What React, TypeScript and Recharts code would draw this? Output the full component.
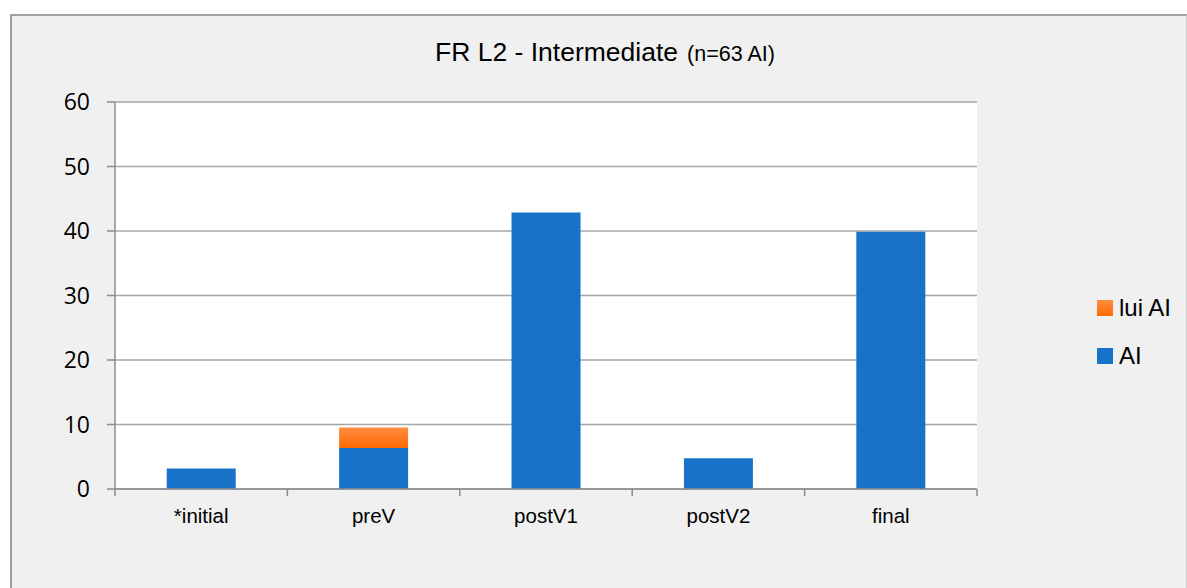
import React from 'react';
import { BarChart, Bar, XAxis, YAxis, CartesianGrid, Legend } from 'recharts';

const categories = ['*initial', 'preV', 'postV1', 'postV2', 'final'];
const aiValues = [3.17, 6.35, 42.86, 4.76, 39.9];
const luiAiValues = [0, 3.17, 0, 0, 0];
const yTicks = [0, 10, 20, 30, 40, 50, 60];
const boundaryTicks = [0, 1, 2, 3, 4, 5];

const data = categories.map((c, i) => ({
  idx: i + 0.5,
  cat: c,
  AI: aiValues[i],
  luiAI: luiAiValues[i],
}));

const FONT = "'Liberation Sans', Arial, sans-serif";
const BLUE = '#1873C8';
const ORANGE = '#FF7A1F';
const legendColors: Record<string, string> = { AI: BLUE, luiAI: ORANGE };

const LegendContent = (props: any) => {
  const items = [...(props.payload || [])].reverse();
  return (
    <div style={{ fontFamily: FONT }}>
      {items.map((p: any) => (
        <div key={p.dataKey} style={{ display: 'flex', alignItems: 'center', height: 48 }}>
          <span
            style={{
              width: 16,
              height: 16,
              display: 'inline-block',
              background:
                p.dataKey === 'luiAI'
                  ? 'linear-gradient(#FF8C42, #FF6A00)'
                  : legendColors[p.dataKey],
            }}
          />
          <span style={{ marginLeft: 6, fontSize: 24, color: '#000' }}>{p.value}</span>
        </div>
      ))}
    </div>
  );
};

export default function App() {
  return (
    <div
      style={{
        position: 'absolute',
        left: 0,
        top: 0,
        width: 1187,
        height: 588,
        background: '#fff',
        overflow: 'hidden',
      }}
    >
      <div
        style={{
          position: 'absolute',
          left: 10,
          top: 14,
          width: 1177,
          height: 600,
          background: '#f0f0f0',
          borderLeft: '2px solid #a0a0a0',
          borderTop: '2px solid #a0a0a0',
          borderRight: '1px solid #d0d0d0',
          boxSizing: 'border-box',
        }}
      />
      <svg
        width={1187}
        height={80}
        style={{ position: 'absolute', left: 0, top: 0 }}
      >
        <text x={435} y={61} fontFamily={FONT} fill="#000">
          <tspan fontSize={26.5}>FR L2 - Intermediate</tspan>
          <tspan fontSize={21.5} dx={9}>(n=63 AI)</tspan>
        </text>
      </svg>
      <div style={{ position: 'absolute', left: 0, top: 0 }}>
        <BarChart
          width={1187}
          height={588}
          data={data}
          margin={{ top: 102, right: 120, bottom: 97, left: 55 }}
          barCategoryGap="30%"
        >
          <defs>
            <linearGradient id="orangeGrad" x1="0" y1="0" x2="0" y2="1">
              <stop offset="0%" stopColor="#FF8C42" />
              <stop offset="100%" stopColor="#FF6A00" />
            </linearGradient>
          </defs>
          <CartesianGrid
            vertical={false}
            stroke="#a6a6a6"
            strokeWidth={1.5}
            fill="#ffffff"
            fillOpacity={1}
          />
          <XAxis
            xAxisId="bound"
            type="number"
            dataKey="idx"
            domain={[0, 5]}
            ticks={boundaryTicks}
            height={1}
            tickSize={7}
            tickFormatter={() => ''}
            stroke="#8c8c8c"
            strokeWidth={1.5}
            allowDataOverflow
          />
          <XAxis
            xAxisId="cat"
            dataKey="cat"
            height={1}
            axisLine={false}
            tickLine={false}
            tickSize={6}
            tickMargin={12}
            interval={0}
            tick={{ fontSize: 20.5, fontFamily: FONT, fill: '#000' }}
          />
          <YAxis
            width={60}
            domain={[0, 60]}
            ticks={yTicks}
            interval={0}
            tickSize={8}
            tickMargin={17}
            stroke="#8c8c8c"
            strokeWidth={1.5}
            tick={{ fontSize: 23, fontFamily: "'Open Sans', sans-serif", fill: '#000' }}
          />
          <Legend
            layout="vertical"
            align="right"
            verticalAlign="middle"
            content={<LegendContent />}
            wrapperStyle={{ position: 'absolute', left: 1097, top: 284, width: 90 }}
          />
          <Bar
            xAxisId="cat"
            dataKey="AI"
            name="AI"
            stackId="a"
            fill={BLUE}
            isAnimationActive={false}
          />
          <Bar
            xAxisId="cat"
            dataKey="luiAI"
            name="lui AI"
            stackId="a"
            fill="url(#orangeGrad)"
            isAnimationActive={false}
          />
        </BarChart>
      </div>
    </div>
  );
}
